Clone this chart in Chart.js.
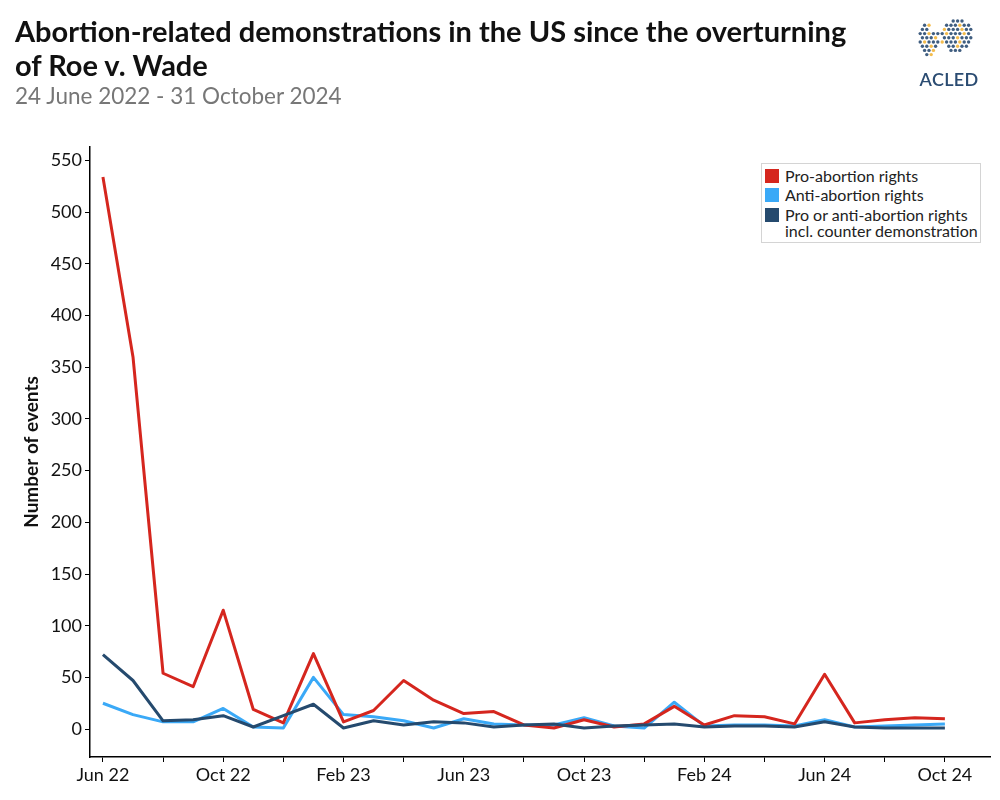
<!DOCTYPE html>
<html>
<head>
<meta charset="utf-8">
<script src="https://cdn.jsdelivr.net/npm/chart.js@4/dist/chart.umd.min.js"></script>
<style>
  html, body { margin:0; padding:0; background:#fff; }
  body { width:1000px; height:800px; position:relative; overflow:hidden; font-family: Lato, "Open Sans", sans-serif; }
  #title { position:absolute; left:15px; top:14px; font-weight:700; font-size:29px; line-height:34px; color:#111; }
  #subtitle { position:absolute; left:15px; top:82px; font-size:22.5px; line-height:28px; color:#777; }
  #wrap { position:absolute; left:0; top:0; width:1000px; height:800px; }
  #legend { position:absolute; left:761px; top:163px; width:220px; border:1px solid #d4d4d4; background:#fff; padding:0 0 3px 0; font-size:16px; color:#222; box-sizing:border-box; }
  .li { display:flex; align-items:flex-start; padding-left:3px; line-height:16px; margin-top:3.5px; }
  .sw { width:14px; height:14px; margin-top:1px; margin-right:6px; flex:none; }
  #logo { position:absolute; left:912px; top:16px; width:72px; height:74px; }
</style>
</head>
<body>
<div id="wrap"><canvas id="c" width="1000" height="800"></canvas></div>
<div id="title">Abortion-related demonstrations in the US since the overturning<br>of Roe v. Wade</div>
<div id="subtitle">24 June 2022 - 31 October 2024</div>
<div id="legend"></div>
<svg id="logo" viewBox="0 0 72 74"></svg>
<script>
// ---- Data ----
const months = ['Jun 22','Jul 22','Aug 22','Sep 22','Oct 22','Nov 22','Dec 22','Jan 23','Feb 23','Mar 23','Apr 23','May 23','Jun 23','Jul 23','Aug 23','Sep 23','Oct 23','Nov 23','Dec 23','Jan 24','Feb 24','Mar 24','Apr 24','May 24','Jun 24','Jul 24','Aug 24','Sep 24','Oct 24'];
const proAbortion = [534,360,54,41,115,19,6,73,7,18,47,28,15,17,4,1,9,2,5,22,4,13,12,5,53,6,9,11,10];
const antiAbortion = [25,14,7,7,20,2,1,50,14,12,8,1,10,5,4,4,11,3,1,26,3,4,4,3,9,2,3,4,5];
const proOrAnti = [72,47,8,9,13,2,13,24,1,8,4,7,6,2,4,5,1,3,4,5,2,3,3,2,7,2,1,1,1];
const yTicks = [0,50,100,150,200,250,300,350,400,450,500,550];
const seriesNames = ['Pro-abortion rights','Anti-abortion rights','Pro or anti-abortion rights\nincl. counter demonstration'];
const colors = ['#d5261e','#3aa9f7','#254a6e'];

// ---- Legend (HTML) ----
const leg = document.getElementById('legend');
seriesNames.forEach((n,i)=>{
  const d = document.createElement('div'); d.className='li';
  d.innerHTML = '<span class="sw" style="background:'+colors[i]+'"></span><span>'+n.replace('\n','<br>')+'</span>';
  leg.appendChild(d);
});

// ---- Logo (decorative) ----
(function(){
  const svg = document.getElementById('logo');
  let s = '';
  const pal = ['#2b4c72','#f2b53a','#2b4c72','#2b4c72'];
  let k = 0;
  for (let r=0;r<10;r++){
    for (let c=0;c<14;c++){
      const x = 6 + c*4.4 + (r%2)*2.2, y = 5 + r*4.2;
      const inA = ((x-17)/10)**2 + ((y-24)/18)**2 < 1 && !(x>19 && y<14);
      const inB = ((x-45)/16)**2 + ((y-20)/16)**2 < 1;
      if (inA || inB){ s += '<circle cx="'+x+'" cy="'+y+'" r="1.7" fill="'+pal[(k*7+r)%4]+'" opacity="0.9"/>'; k++; }
    }
  }
  s += '<text x="37" y="70" text-anchor="middle" font-family="Lato, sans-serif" font-weight="600" font-size="18" fill="#2b4c72" letter-spacing="0.3">ACLED</text>';
  svg.innerHTML = s;
})();

// ---- Chart ----
const mk = (arr)=>arr.map((v,i)=>({x:i,y:v}));
new Chart(document.getElementById('c'), {
  type:'line',
  data:{ datasets:[
    {label:seriesNames[0], data:mk(proAbortion), borderColor:colors[0], backgroundColor:colors[0], order:1},
    {label:seriesNames[1], data:mk(antiAbortion), borderColor:colors[1], backgroundColor:colors[1], order:2},
    {label:seriesNames[2], data:mk(proOrAnti), borderColor:colors[2], backgroundColor:colors[2], order:0}
  ]},
  options:{
    responsive:false, animation:false,
    layout:{ padding:{ top:147, right:10, left:0, bottom:0 } },
    elements:{ line:{ borderWidth:3, tension:0, borderJoinStyle:'round', borderCapStyle:'butt' }, point:{ radius:0 } },
    plugins:{ legend:{display:false}, tooltip:{enabled:false} },
    scales:{
      x:{
        type:'linear', min:-0.43, max:29.5,
        afterBuildTicks:(s)=>{ s.ticks = months.map((m,i)=>i).filter(i=>i%2===0).map(v=>({value:v})); },
        afterFit:(s)=>{ s.height = 43; },
        ticks:{ autoSkip:false, maxRotation:0, padding:2, color:'#111', font:{family:'Lato', size:18},
          callback:(v)=> (v%4===0 ? months[v] : '') },
        grid:{ drawOnChartArea:false, drawTicks:true, tickLength:5, color:'#000', lineWidth:1 },
        border:{ display:true, color:'#000', width:1.5 }
      },
      y:{
        type:'linear', min:-27, max:563,
        afterBuildTicks:(s)=>{ s.ticks = yTicks.map(v=>({value:v})); },
        afterFit:(s)=>{ s.width = 90; },
        ticks:{ padding:3, color:'#111', font:{family:'Lato', size:18} },
        grid:{ drawOnChartArea:false, drawTicks:true, tickLength:5, color:'#000', lineWidth:1 },
        border:{ display:true, color:'#000', width:1.5 },
        title:{ display:true, text:'Number of events', color:'#111', font:{family:'Lato', size:19, weight:'bold'}, padding:{top:20, bottom:0} }
      }
    }
  }
});
</script>
</body>
</html>
